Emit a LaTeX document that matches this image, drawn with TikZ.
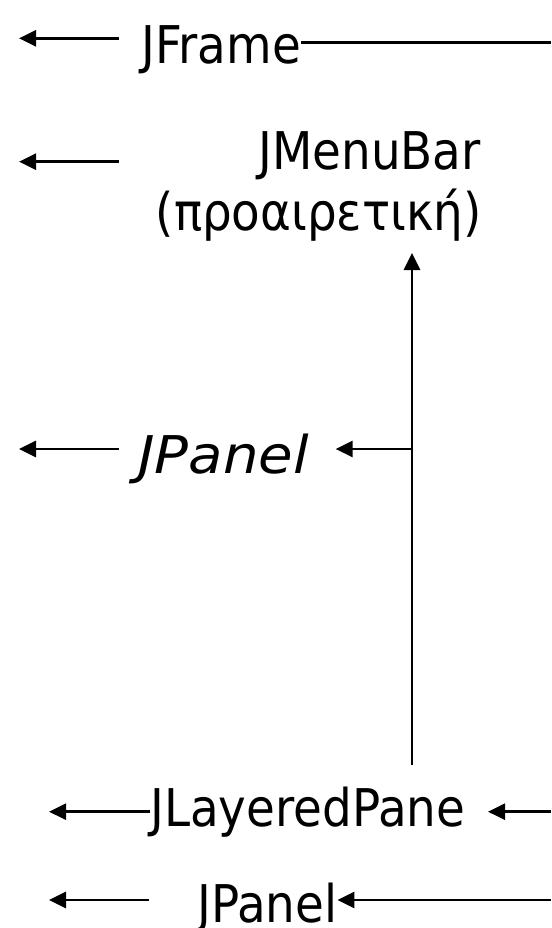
\documentclass[tikz,border=0pt]{standalone}
\usepackage{fontspec}
\setmainfont[FakeStretch=0.9]{DejaVu Sans}
\newfontfamily\obliquefont[FakeStretch=1.08]{DejaVu Sans}
\usetikzlibrary{arrows.meta}
\tikzstyle{txt}=[inner sep=0pt,font=\fontsize{52}{62}\selectfont]
\tikzstyle{arr}=[line width=2.8pt,-{Triangle[length=17pt,width=16pt]}]

\begin{document}
\begin{tikzpicture}[x=1pt,y=-1pt]
    \useasboundingbox (0,0) rectangle (551,928);
    \node[txt,anchor=base west] (frame) at (141,63.3) {JFrame};
    \node[txt,anchor=base east] (menubar) at (481,170) {JMenuBar};
    \node[txt,anchor=base east] (optional) at (482,230) {(προαιρετική)};
    \node[txt,anchor=base west,font=\fontsize{52}{62}\obliquefont\itshape] (panelA) at (138,473.3) {JPanel};
    \node[txt,anchor=base west] (layered) at (150,826.7) {JLayeredPane};
    \node[txt,anchor=base west] (panelB) at (197,922) {JPanel};

    \coordinate (t1) at (19,38.3);   \coordinate (s1) at (119,38.3);
    \coordinate (t2) at (19,161.7);  \coordinate (s2) at (119,161.7);
    \coordinate (t3) at (19,449);    \coordinate (s3) at (119,449);
    \coordinate (t4) at (49,811.7);
    \coordinate (t5) at (49,900);    \coordinate (s5) at (149,900);
    \coordinate (frameR) at (551,42.3);
    \coordinate (vbot) at (412,765);
    \coordinate (vtop) at (412,253);
    \coordinate (vmid) at (412,449);
    \coordinate (tA) at (335.6,449);
    \coordinate (layR) at (551,811.7);
    \coordinate (tL) at (488,811.7);
    \coordinate (panR) at (551,900);

    \foreach \from/\to in {s1/t1,s2/t2,s3/t3,s5/t5,vbot/vtop,vmid/tA,layR/tL}
        \draw[arr] (\from) -- (\to);
    \draw[arr] (layered.west |- t4) -- (t4);
    \draw[arr] (panR) -- (panelB.east |- panR);
    \draw[line width=2.8pt] (frame.east |- frameR) -- (frameR);
\end{tikzpicture}
\end{document}
